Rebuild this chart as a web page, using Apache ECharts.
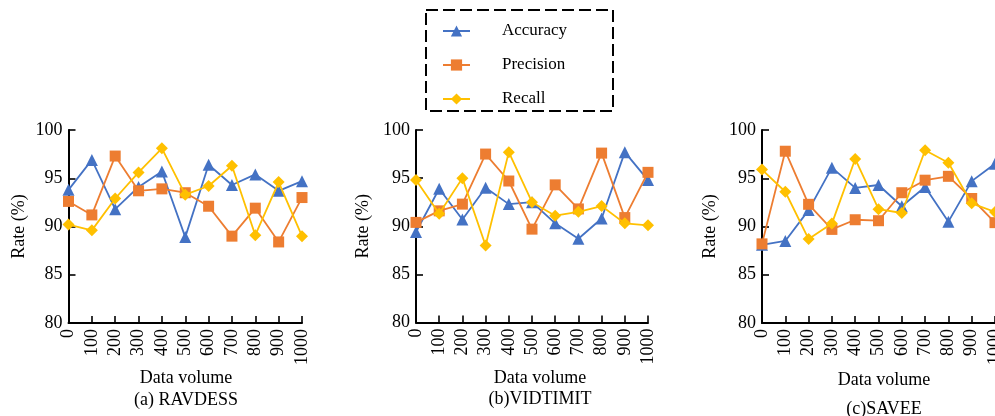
<!DOCTYPE html>
<html>
<head>
<meta charset="utf-8">
<script src="https://cdn.jsdelivr.net/npm/echarts@6/dist/echarts.min.js"></script>
<style>
  html, body { margin: 0; padding: 0; background: #fff; }
  #chart { width: 995px; height: 416px; }
</style>
</head>
<body>
<div id="chart"></div>
<script>
// Data volume steps shared by all three datasets
const categories = ['0', '100', '200', '300', '400', '500', '600', '700', '800', '900', '1000'];
const seriesNames = ['Accuracy', 'Precision', 'Recall'];
const yTicks = [80, 85, 90, 95, 100];

// RAVDESS
const ravdessAccuracy  = [93.8, 96.9, 91.8, 94.1, 95.7, 88.9, 96.4, 94.3, 95.4, 93.7, 94.7];
const ravdessPrecision = [92.6, 91.2, 97.3, 93.7, 93.9, 93.5, 92.1, 89.0, 91.9, 88.4, 93.0];
const ravdessRecall    = [90.2, 89.6, 92.9, 95.6, 98.1, 93.3, 94.2, 96.3, 89.1, 94.6, 89.0];

// VIDTIMIT
const vidtimitAccuracy  = [89.4, 93.9, 90.7, 94.0, 92.3, 92.5, 90.3, 88.7, 90.8, 97.7, 94.8];
const vidtimitPrecision = [90.4, 91.6, 92.3, 97.5, 94.7, 89.7, 94.3, 91.8, 97.6, 90.9, 95.6];
const vidtimitRecall    = [94.8, 91.3, 95.0, 88.0, 97.7, 92.5, 91.1, 91.5, 92.1, 90.3, 90.1];

// SAVEE
const saveeAccuracy  = [88.1, 88.5, 91.7, 96.1, 94.0, 94.3, 92.1, 94.1, 90.5, 94.7, 96.5];
const saveePrecision = [88.2, 97.8, 92.3, 89.7, 90.7, 90.6, 93.5, 94.8, 95.2, 92.9, 90.4];
const saveeRecall    = [95.9, 93.6, 88.7, 90.3, 97.0, 91.8, 91.4, 97.9, 96.6, 92.4, 91.5];

const xAxisTitle = 'Data volume';
const yAxisTitle = 'Rate (%)';
const panelCaptions = ['(a) RAVDESS', '(b)VIDTIMIT', '(c)SAVEE'];

const panels = [
  [ravdessAccuracy, ravdessPrecision, ravdessRecall],
  [vidtimitAccuracy, vidtimitPrecision, vidtimitRecall],
  [saveeAccuracy, saveePrecision, saveeRecall]
];

const FONT = "'Liberation Serif', 'Times New Roman', serif";
const COLORS = ['#4472C4', '#ED7D31', '#FFC000'];
const SYMBOLS = ['triangle', 'rect', 'diamond'];
const SYMBOL_SIZES = [12, 11, 12];

// Panel placement (pixels); the last panel runs right up to the page edge
const grids = [
  { left: 68.5, top: 130, width: 233.5, height: 193 },
  { left: 416,  top: 130, width: 232,   height: 192.5 },
  { left: 762,  top: 130, width: 233,   height: 193 }
];
const yNameGaps = [40, 44, 43];
const captionX = [186, 540, 884];
const volumeY = [378, 378, 380];
const captionY = [400, 399, 409];

const chart = echarts.init(document.getElementById('chart'), null, { renderer: 'canvas' });

const xAxes = grids.map((g, i) => ({
  type: 'category',
  gridIndex: i,
  data: categories,
  boundaryGap: false,
  axisLine: { lineStyle: { color: '#000', width: 2 } },
  axisTick: { inside: true, length: 7, lineStyle: { color: '#000', width: 1.6 } },
  axisLabel: { rotate: 90, margin: 6, color: '#000', fontFamily: FONT, fontSize: 18, interval: 0 },
  splitLine: { show: false }
}));

const yAxes = grids.map((g, i) => ({
  type: 'value',
  gridIndex: i,
  min: yTicks[0],
  max: yTicks[yTicks.length - 1],
  interval: yTicks[1] - yTicks[0],
  name: yAxisTitle,
  nameLocation: 'middle',
  nameRotate: 90,
  nameGap: yNameGaps[i],
  nameTextStyle: { color: '#000', fontFamily: FONT, fontSize: 18 },
  axisLine: { show: true, lineStyle: { color: '#000', width: 2 } },
  axisTick: { show: true, inside: true, length: 7, lineStyle: { color: '#000', width: 1.6 } },
  axisLabel: { margin: 6, color: '#000', fontFamily: FONT, fontSize: 18 },
  splitLine: { show: false }
}));

const series = [];
panels.forEach((panel, p) => {
  panel.forEach((values, s) => {
    series.push({
      name: seriesNames[s],
      type: 'line',
      xAxisIndex: p,
      yAxisIndex: p,
      data: values,
      symbol: SYMBOLS[s],
      symbolSize: SYMBOL_SIZES[s],
      showAllSymbol: true,
      clip: false,
      lineStyle: { color: COLORS[s], width: 1.8 },
      itemStyle: { color: COLORS[s], borderWidth: 0 },
      emphasis: { disabled: true },
      animation: false,
      z: 2 + s
    });
  });
});

const graphics = [
  {
    type: 'rect',
    shape: { x: 426, y: 10, width: 187, height: 101 },
    style: { fill: 'none', stroke: '#000', lineWidth: 2, lineDash: [12, 5] },
    silent: true
  }
];
grids.forEach((g, i) => {
  graphics.push({
    type: 'text',
    x: captionX[i], y: volumeY[i],
    style: { text: xAxisTitle, fill: '#000', font: '18px ' + FONT, align: 'center', verticalAlign: 'middle' }
  });
  graphics.push({
    type: 'text',
    x: captionX[i], y: captionY[i],
    style: { text: panelCaptions[i], fill: '#000', font: '18px ' + FONT, align: 'center', verticalAlign: 'middle' }
  });
});

chart.setOption({
  animation: false,
  backgroundColor: '#fff',
  grid: grids.map(g => Object.assign({ containLabel: false, outerBoundsMode: 'none' }, g)),
  xAxis: xAxes,
  yAxis: yAxes,
  legend: {
    data: seriesNames,
    orient: 'vertical',
    left: 437,
    top: 17,
    itemWidth: 27,
    itemHeight: 14,
    itemGap: 16,
    selectedMode: false,
    textStyle: { color: '#000', fontFamily: FONT, fontSize: 17, lineHeight: 18, padding: [0, 0, 0, 27] }
  },
  graphic: graphics,
  series: series
});
</script>
</body>
</html>
